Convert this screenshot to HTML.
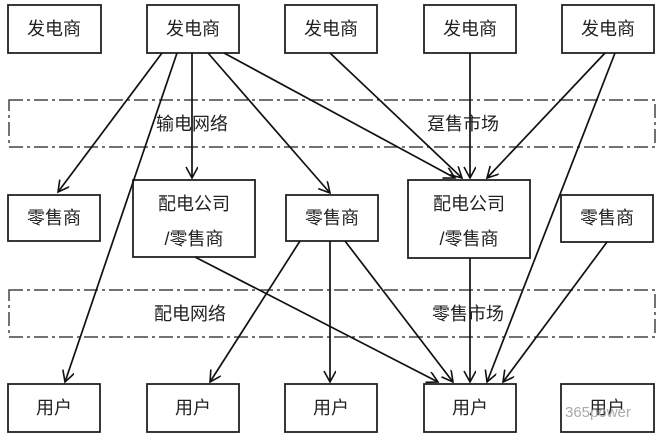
<!DOCTYPE html>
<html><head><meta charset="utf-8"><style>
body{margin:0;background:#fff}
svg text{font-family:"Liberation Sans","Noto Sans CJK SC",sans-serif;font-size:18px;fill:#222}
</style></head><body>
<svg width="658" height="441" viewBox="0 0 658 441" xmlns="http://www.w3.org/2000/svg">
<defs><marker id="a" markerWidth="14" markerHeight="14" refX="12" refY="6" orient="auto" markerUnits="userSpaceOnUse"><path d="M1,0 L12,6 L1,12" fill="none" stroke="#111" stroke-width="1.6"/></marker></defs>
<g fill="#fff" stroke="#222" stroke-width="1.8">
<rect x="8" y="5" width="93" height="48"/><rect x="147" y="5" width="92" height="48"/><rect x="285" y="5" width="92" height="48"/><rect x="424" y="5" width="92" height="48"/><rect x="562" y="5" width="92" height="48"/>
<rect x="8" y="195" width="92" height="46"/><rect x="133" y="180" width="122" height="77"/><rect x="286" y="195" width="92" height="46"/><rect x="408" y="180" width="122" height="78"/><rect x="561" y="195" width="92" height="47"/>
<rect x="8" y="384" width="92" height="48"/><rect x="147" y="384" width="92" height="48"/><rect x="285" y="384" width="92" height="48"/><rect x="424" y="384" width="92" height="48"/><rect x="561" y="384" width="93" height="48"/>
</g>
<g fill="none" stroke="#444" stroke-width="1.5" stroke-dasharray="14,4,3,4">
<rect x="9" y="100" width="646" height="47"/><rect x="9" y="290" width="646" height="47"/>
</g>
<g stroke="#111" stroke-width="1.7" marker-end="url(#a)">
<line x1="162" y1="53" x2="58" y2="192"/>
<line x1="177" y1="53" x2="65" y2="382"/>
<line x1="192" y1="53" x2="192" y2="178"/>
<line x1="208" y1="53" x2="330" y2="193"/>
<line x1="224" y1="53" x2="455" y2="178"/>
<line x1="330" y1="53" x2="462" y2="178"/>
<line x1="470" y1="53" x2="470" y2="178"/>
<line x1="605" y1="53" x2="487" y2="178"/>
<line x1="615" y1="53" x2="487" y2="382"/>
<line x1="195" y1="257" x2="438" y2="382"/>
<line x1="300" y1="241" x2="210" y2="382"/>
<line x1="330" y1="241" x2="330" y2="382"/>
<line x1="345" y1="241" x2="453" y2="382"/>
<line x1="470" y1="258" x2="470" y2="382"/>
<line x1="607" y1="242" x2="503" y2="382"/>
</g>
<g text-anchor="middle">
<text x="54" y="35">发电商</text><text x="193" y="35">发电商</text><text x="331" y="35">发电商</text><text x="470" y="35">发电商</text><text x="608" y="35">发电商</text>
<text x="54" y="224">零售商</text><text x="194" y="210">配电公司</text><text x="194" y="245">/零售商</text><text x="332" y="224">零售商</text><text x="469" y="210">配电公司</text><text x="469" y="245">/零售商</text><text x="607" y="224">零售商</text>
<text x="54" y="414">用户</text><text x="193" y="414">用户</text><text x="331" y="414">用户</text><text x="470" y="414">用户</text><text x="607" y="414">用户</text>
<text x="192" y="130" fill="#333">输电网络</text><text x="463" y="130">趸售市场</text>
<text x="190" y="320">配电网络</text><text x="468" y="320">零售市场</text>
</g>
<text x="565" y="417" style="font-size:15px;fill:#aaa">365power</text>
</svg>
</body></html>
